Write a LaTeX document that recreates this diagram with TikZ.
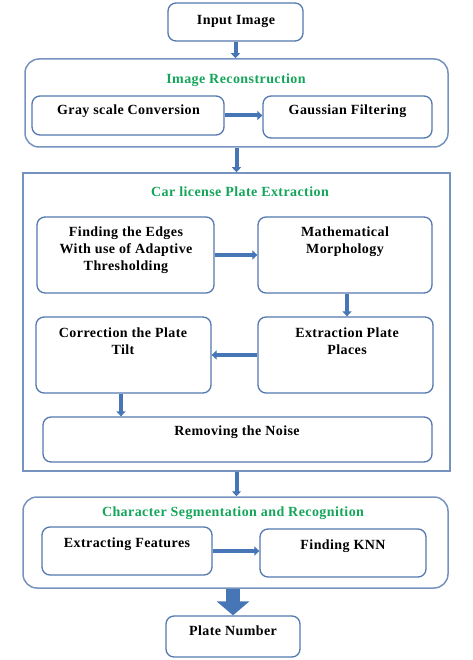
\documentclass[tikz,border=0pt]{standalone}
\usepackage{fontspec}
\setmainfont{Liberation Serif}[LetterSpace=3]
\usepackage{tikz}
\usetikzlibrary{calc,positioning,arrows.meta,shapes}

\definecolor{boxblue}{RGB}{84,120,176}
\definecolor{arrowblue}{RGB}{70,118,182}
\definecolor{titlegreen}{RGB}{20,165,90}

\tikzset{
  box/.style={draw=boxblue, line width=1.3pt, rounded corners=8pt, fill=white, inner sep=0pt},
  frame/.style={draw=boxblue!80, line width=1.5pt, rounded corners=14pt, inner sep=0pt},
  flatframe/.style={frame, rounded corners=0pt},
  lbl/.style={font=\bfseries\fontsize{14}{17}\selectfont, align=center, inner sep=0pt},
  head/.style={lbl, text=titlegreen},
  flow/.style={draw=arrowblue, line width=4pt, -{Triangle[length=5pt,width=9pt]}},
  bigflow/.style={draw=arrowblue, line width=14pt, -{Triangle[length=14pt,width=32pt]}},
}

\begin{document}
\begin{tikzpicture}[x=1pt, y=-1pt]
    \useasboundingbox (0,0) rectangle (472,660);
    % outer stages
    \node[box, minimum width=135pt, minimum height=38pt] (input) at (235.5,22) {};
    \node[frame, minimum width=423pt, minimum height=88pt] (recon) at (236.5,103) {};
    \node[flatframe, minimum width=427pt, minimum height=298pt] (plate) at (236.5,322) {};
    \node[frame, minimum width=425pt, minimum height=91pt] (chars) at (235.5,542.5) {};
    \node[box, minimum width=134pt, minimum height=41pt] (number) at (233,636.5) {};
    % inner steps
    \node[box, minimum width=192pt, minimum height=39pt] (gray) at (128,115.5) {};
    \node[box, minimum width=169pt, minimum height=42pt] (gauss) at (347.5,117) {};
    \node[box, minimum width=177pt, minimum height=76pt] (edges) at (125.5,255) {};
    \node[box, minimum width=174pt, minimum height=76pt] (morph) at (345,255) {};
    \node[box, minimum width=175pt, minimum height=76pt] (extr) at (345.5,355) {};
    \node[box, minimum width=175pt, minimum height=76pt] (tilt) at (123.5,355) {};
    \node[box, minimum width=389pt, minimum height=45pt] (noise) at (237.5,439.5) {};
    \node[box, minimum width=170pt, minimum height=48pt] (feat) at (127,551) {};
    \node[box, minimum width=166pt, minimum height=48pt] (knn) at (343,553) {};
    % texts
    \node[lbl] (inputt) at (236,21) {Input Image};
    \node[head] (recont) at (236,80) {Image Reconstruction};
    \node[lbl] (grayt) at (128.5,111) {Gray scale Conversion};
    \node[lbl] (gausst) at (347.5,111) {Gaussian Filtering};
    \node[head] (platet) at (240,192) {Car license Plate Extraction};
    \node[lbl] (edgest) at (126,250) {Finding the Edges\\With use of Adaptive\\Thresholding};
    \node[lbl] (morpht) at (345,241.5) {Mathematical\\Morphology};
    \node[lbl] (extrt) at (347,341.5) {Extraction Plate\\Places};
    \node[lbl] (tiltt) at (123,341.5) {Correction the Plate\\Tilt};
    \node[lbl] (noiset) at (237,432) {Removing the Noise};
    \node[head] (charst) at (233,513) {Character Segmentation and Recognition};
    \node[lbl] (featt) at (127,544) {Extracting Features};
    \node[lbl] (knnt) at (343,546) {Finding KNN};
    \node[lbl] (numbert) at (233,631) {Plate Number};
    % connectors
    \draw[flow] (input.south) -- (input.south |- recon.north);
    \draw[flow] (recon.south) -- (plate.north);
    \draw[flow] (plate.south) -- (plate.south |- chars.north);
    \draw[bigflow] (chars.south -| number.north) -- (number.north);
    \draw[flow] (gray.east) -- (gray.east -| gauss.west);
    \draw[flow] (edges.east) -- (edges.east -| morph.west);
    \draw[flow] ([xshift=2pt]morph.south) -- ([xshift=2pt]morph.south |- extr.north);
    \draw[flow] (extr.west) -- (extr.west -| tilt.east);
    \draw[flow] ([xshift=-2.5pt]tilt.south) -- ([xshift=-2.5pt]tilt.south |- noise.north);
    \draw[flow] (feat.east) -- (feat.east -| knn.west);
\end{tikzpicture}
\end{document}
